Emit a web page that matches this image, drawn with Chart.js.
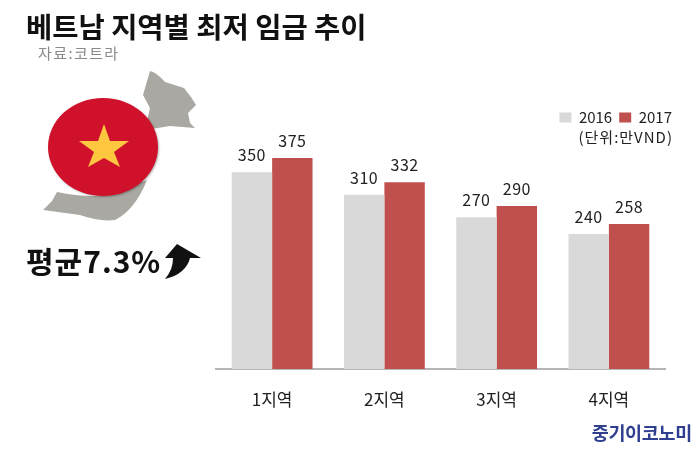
<!DOCTYPE html>
<html>
<head>
<meta charset="utf-8">
<script src="https://cdn.jsdelivr.net/npm/chart.js@4"></script>
<style>
  body { margin: 0; background: #fff; font-family: "Noto Sans CJK KR", sans-serif; }
  #wrap { position: relative; width: 700px; height: 450px; overflow: hidden; }
  #wrap div { position: absolute; white-space: nowrap; line-height: 1; }
  #title { left: 26px; top: 12px; font-size: 28.5px; font-weight: 700; color: #111; }
  #source { left: 38px; top: 45px; font-size: 15px; color: #8a8a8a; letter-spacing: 1.4px; }
  #avg { left: 26px; top: 245px; font-size: 30px; font-weight: 700; color: #111; letter-spacing: 1px; }
  #unit { right: 27px; top: 129px; font-size: 15px; color: #222; letter-spacing: 1px; }
  #logo { right: 8px; top: 423px; font-size: 18.5px; font-weight: 700; color: #2f3e8f; letter-spacing: -0.3px; }
</style>
</head>
<body>
<div id="wrap">
  <canvas id="chart" width="700" height="450"></canvas>
  <div id="title">베트남 지역별 최저 임금 추이</div>
  <div id="source">자료:코트라</div>
  <div id="avg">평균7.3%</div>
  <div id="unit">(단위:만VND)</div>
  <div id="logo">중기이코노미</div>
</div>
<script>
var categories = ["1지역", "2지역", "3지역", "4지역"];
var values2016 = [350, 310, 270, 240];
var values2017 = [375, 332, 290, 258];

// map, flag and arrow on the left, not part of the data
var decoration = {
  id: "decoration",
  beforeDraw: function (chart) {
    var c = chart.ctx;
    c.save();
    c.fillStyle = "#a9a8a2";
    c.beginPath();
    c.moveTo(150, 71);
    c.quadraticCurveTo(156, 72, 165, 82);
    c.lineTo(184, 88);
    c.lineTo(191, 97);
    c.lineTo(196, 105);
    c.lineTo(188, 113);
    c.lineTo(190, 123);
    c.lineTo(195, 128);
    c.lineTo(170, 126);
    c.lineTo(145, 130);
    c.lineTo(150, 108);
    c.lineTo(143, 95);
    c.closePath();
    c.fill();
    c.beginPath();
    c.moveTo(57, 192);
    c.lineTo(52, 201);
    c.lineTo(43, 210);
    c.lineTo(80, 215);
    c.quadraticCurveTo(100, 222, 115, 220);
    c.quadraticCurveTo(135, 210, 147, 180);
    c.lineTo(110, 195);
    c.quadraticCurveTo(85, 198, 57, 192);
    c.closePath();
    c.fill();

    c.shadowColor = "rgba(0,0,0,0.3)";
    c.shadowBlur = 2;
    c.shadowOffsetX = 1;
    c.shadowOffsetY = 1;
    c.fillStyle = "#d0112b";
    c.beginPath();
    c.ellipse(103, 147, 55, 49, 0, 0, Math.PI * 2);
    c.fill();
    c.shadowColor = "transparent";

    c.fillStyle = "#fdc73f";
    c.beginPath();
    var star = [[104, 124], [110, 141], [129, 141], [114, 152], [120, 167], [104, 158], [88, 167], [94, 152], [79, 141], [98, 141]];
    star.forEach(function (p, i) { i ? c.lineTo(p[0], p[1]) : c.moveTo(p[0], p[1]); });
    c.closePath();
    c.fill();

    c.fillStyle = "#111";
    c.beginPath();
    c.moveTo(177, 244);
    c.lineTo(201, 258);
    c.lineTo(190, 258);
    c.quadraticCurveTo(186, 274, 165, 279);
    c.quadraticCurveTo(173, 270, 173, 258);
    c.lineTo(165, 258);
    c.closePath();
    c.fill();
    c.restore();
  },
  afterLayout: function (chart) {
    // legend sits up and past the plot's right edge
    chart.legend.left += 14;
    chart.legend.right += 14;
    chart.legend.top -= 9;
    chart.legend.bottom -= 9;
  }
};

var barLabels = {
  id: "barLabels",
  afterDatasetsDraw: function (chart) {
    var c = chart.ctx;
    c.save();
    c.font = '16px "Noto Sans CJK KR"';
    c.letterSpacing = "0.5px";
    c.fillStyle = "#222";
    c.textAlign = "center";
    c.textBaseline = "bottom";
    chart.data.datasets.forEach(function (ds, i) {
      chart.getDatasetMeta(i).data.forEach(function (bar, j) {
        c.fillText(ds.data[j], bar.x, bar.y - 9);
      });
    });
    c.restore();
  }
};

new Chart(document.getElementById("chart"), {
  type: "bar",
  data: {
    labels: categories,
    datasets: [
      { label: "2016", data: values2016, backgroundColor: "#d9d9d9" },
      { label: "2017", data: values2017, backgroundColor: "#c0504d" }
    ]
  },
  options: {
    responsive: false,
    animation: false,
    layout: { padding: { left: 216, right: 35, top: 112, bottom: 0 } },
    datasets: { bar: { categoryPercentage: 0.72, barPercentage: 1 } },
    plugins: {
      title: { display: false },
      tooltip: { enabled: false },
      legend: {
        position: "top",
        align: "end",
        labels: {
          color: "#222",
          boxWidth: 12,
          boxHeight: 10,
          padding: 7,
          font: { family: "Noto Sans CJK KR", size: 15 }
        }
      }
    },
    scales: {
      y: { display: false, min: 0, max: 400 },
      x: {
        afterFit: function (scale) { scale.height = 81; },
        border: { color: "#b5b5b5", width: 2 },
        grid: { display: false },
        ticks: {
          padding: 12,
          color: "#222",
          font: { family: "Noto Sans CJK KR", size: 17 }
        }
      }
    }
  },
  plugins: [decoration, barLabels]
});
</script>
</body>
</html>
